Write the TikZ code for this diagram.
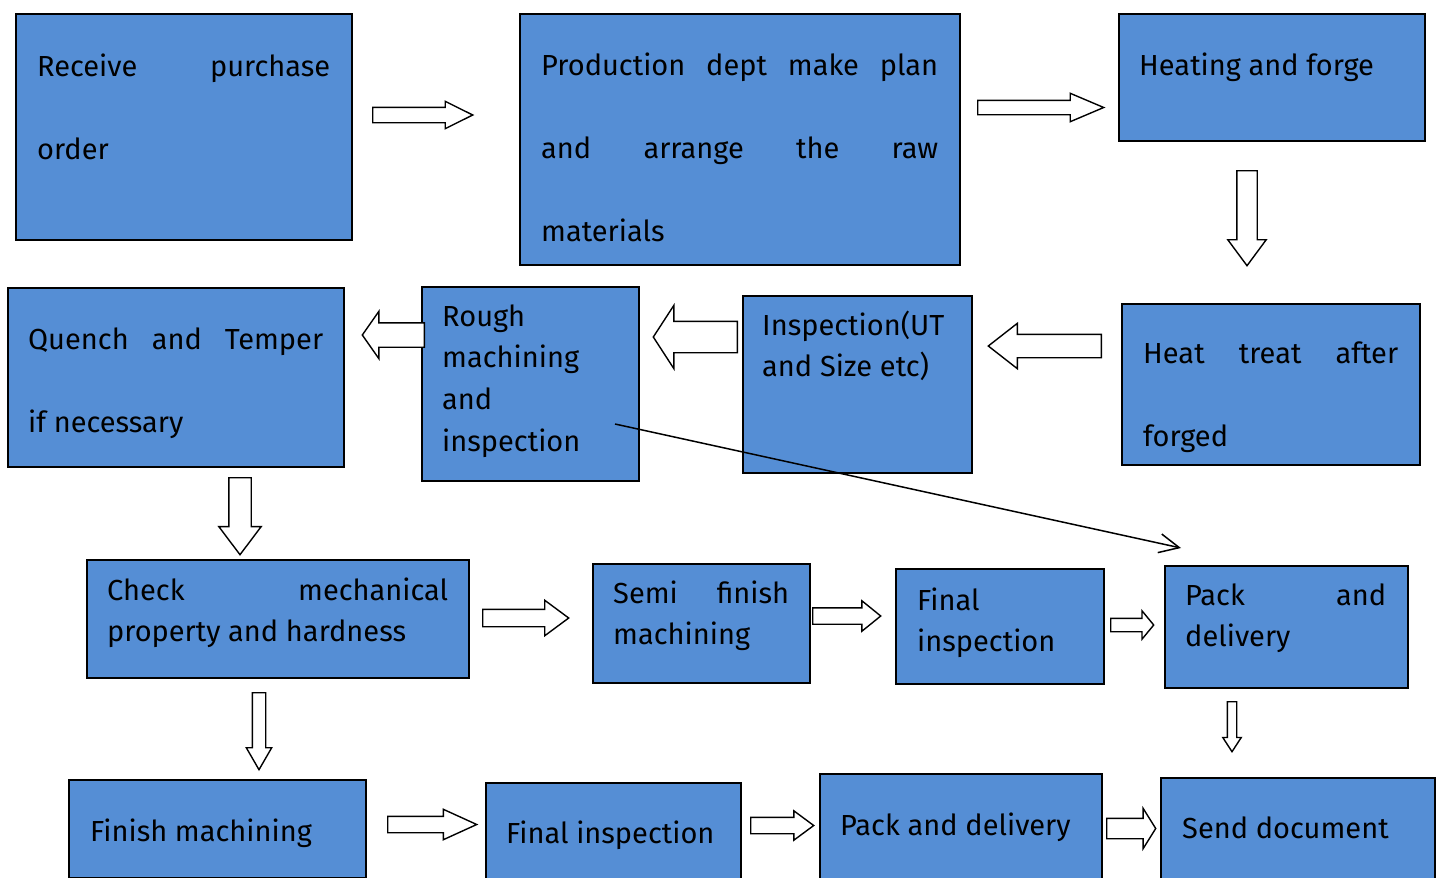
\documentclass[tikz,border=0pt]{standalone}
\usepackage{fontspec}
\setmainfont{Fira Sans}
\usepackage{xcolor}
\usepackage{tikz}
\usetikzlibrary{shapes.arrows,arrows.meta}
\definecolor{boxblue}{RGB}{85,142,213}

\tikzset{
  box/.style={draw, line width=1.5pt, fill=boxblue, anchor=north west, inner sep=0pt},
  txt/.style={anchor=base west, inner sep=0pt, align=justify, font=\fontsize{29}{41.7}\selectfont},
  txtdbl/.style={txt, font=\fontsize{29}{83}\selectfont},
  blockarr/.style={single arrow, draw, line width=1.4pt, fill=white, anchor=tail, inner xsep=0pt, minimum width=0pt},
}

\begin{document}
\begin{tikzpicture}[x=1pt, y=-1pt]
    \useasboundingbox (0,0) rectangle (1443,878);
    \clip (0,0) rectangle (1443,878);

    % Top row
    \node[box, minimum width=336pt, minimum height=226pt] (recv) at (15,13) {};
    \node[txtdbl, text width=293pt] (recvT) at (37,76) {Receive\hfill purchase\\order};
    \node[box, minimum width=440pt, minimum height=251pt] (plan) at (519,13) {};
    \node[txtdbl, text width=397pt] (planT) at (541,75) {Production\hfill dept\hfill make\hfill plan\\and\hfill arrange\hfill the\hfill raw\\materials};
    \node[box, minimum width=306pt, minimum height=127pt] (forge) at (1118,13) {};
    \node[txtdbl, text width=264pt] (forgeT) at (1139,75) {Heating and forge};

    % Second row
    \node[box, minimum width=336pt, minimum height=179pt] (quench) at (7,287) {};
    \node[txtdbl, text width=295pt] (quenchT) at (28,349) {Quench\hfill and\hfill Temper\\if necessary};
    \node[box, minimum width=217pt, minimum height=194pt] (rough) at (421,286) {};
    \node[txt, text width=175pt] (roughT) at (442,326) {Rough\\machining\\and\\inspection};
    \node[box, minimum width=229pt, minimum height=177pt] (insp) at (742,295) {};
    \node[txt, text width=188pt] (inspT) at (762,335) {Inspection(UT\\and Size etc)};
    \node[box, minimum width=298pt, minimum height=161pt] (heat) at (1121,303) {};
    \node[txtdbl, text width=255pt] (heatT) at (1143,363) {Heat\hfill treat\hfill after\\forged};

    % Third row
    \node[box, minimum width=382pt, minimum height=118pt] (check) at (86,559) {};
    \node[txt, text width=341pt] (checkT) at (107,600) {Check\hfill mechanical\\property and hardness};
    \node[box, minimum width=217pt, minimum height=119pt] (semi) at (592,563) {};
    \node[txt, text width=176pt] (semiT) at (613,603) {Semi\hfill finish\\machining};
    \node[box, minimum width=208pt, minimum height=115pt] (finA) at (895,568) {};
    \node[txt, text width=165pt] (finAT) at (917,610) {Final\\inspection};
    \node[box, minimum width=243pt, minimum height=122pt] (packA) at (1164,565) {};
    \node[txt, text width=201pt] (packAT) at (1185,605) {Pack\hfill and\\delivery};

    % Bottom row
    \node[box, minimum width=297pt, minimum height=98pt] (finish) at (68,779) {};
    \node[txt, text width=255pt] (finishT) at (90,841) {Finish machining};
    \node[box, minimum width=255pt, minimum height=110pt] (finB) at (485,782) {};
    \node[txt, text width=213pt] (finBT) at (506,843) {Final inspection};
    \node[box, minimum width=282pt, minimum height=120pt] (packB) at (819,773) {};
    \node[txt, text width=240pt] (packBT) at (840,835) {Pack and delivery};
    \node[box, minimum width=274pt, minimum height=115pt] (send) at (1160,777) {};
    \node[txt, text width=232pt] (sendT) at (1182,838) {Send document};

    % Block arrows
    \node[blockarr, minimum height=100pt, inner ysep=7pt, single arrow head extend=6pt, single arrow tip angle=53] (a1) at (372,115) {};
    \node[blockarr, minimum height=126pt, inner ysep=6.5pt, single arrow head extend=7pt, single arrow tip angle=46] (a2) at (977,107.5) {};
    \node[blockarr, rotate=-90, minimum height=95pt, inner ysep=9.5pt, single arrow head extend=9pt, single arrow tip angle=73] (a3) at (1247,170) {};
    \node[blockarr, rotate=180, minimum height=113pt, inner ysep=11pt, single arrow head extend=11pt, single arrow tip angle=76] (a4) at (1102,346) {};
    \node[blockarr, rotate=180, minimum height=84pt, inner ysep=15pt, single arrow head extend=16pt, single arrow tip angle=114] (a5) at (738,337) {};
    \node[blockarr, rotate=180, minimum height=62pt, inner ysep=11.5pt, single arrow head extend=11.5pt, single arrow tip angle=110] (a6) at (425,335) {};
    \node[blockarr, rotate=-90, minimum height=77pt, inner ysep=10.5pt, single arrow head extend=10pt, single arrow tip angle=74] (a7) at (240,477) {};
    \node[blockarr, minimum height=86pt, inner ysep=8pt, single arrow head extend=9pt, single arrow tip angle=73] (a8) at (482,618) {};
    \node[blockarr, minimum height=68pt, inner ysep=7.5pt, single arrow head extend=7pt, single arrow tip angle=78] (a9) at (812,616) {};
    \node[blockarr, minimum height=43pt, inner ysep=6pt, single arrow head extend=7.5pt, single arrow tip angle=101] (a10) at (1110,625) {};
    \node[blockarr, rotate=-90, minimum height=50pt, inner ysep=4pt, single arrow head extend=4.5pt, single arrow tip angle=66] (a11) at (1232,701) {};
    \node[blockarr, rotate=-90, minimum height=77pt, inner ysep=6pt, single arrow head extend=6pt, single arrow tip angle=60] (a12) at (259,692) {};
    \node[blockarr, minimum height=89pt, inner ysep=7.5pt, single arrow head extend=7pt, single arrow tip angle=49] (a13) at (387,824.5) {};
    \node[blockarr, minimum height=63pt, inner ysep=7.5pt, single arrow head extend=6.5pt, single arrow tip angle=73] (a14) at (750,825.5) {};
    \node[blockarr, minimum height=49pt, inner ysep=9.5pt, single arrow head extend=10pt, single arrow tip angle=116] (a15) at (1106,828.5) {};

    % Rough machining straight to packing
    \coordinate (roughOut) at (615,424);
    \coordinate (packIn) at (1181,548);
    \draw[-{Straight Barb[length=20pt,width=19pt]}, line width=1.5pt] (roughOut) -- (packIn);
\end{tikzpicture}
\end{document}
